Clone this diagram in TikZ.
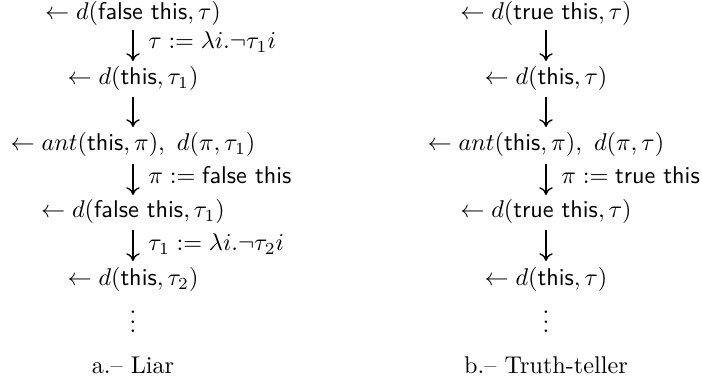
\documentclass[tikz,border=0pt]{standalone}
\usetikzlibrary{arrows.meta}
\begin{document}
\begin{tikzpicture}[x=0.4132pt,y=-0.4132pt,
  row/.style={anchor=base,inner sep=0pt},
  lbl/.style={anchor=base west,inner sep=0pt},
  darr/.style={line width=0.55pt,-{Computer Modern Rightarrow[length=3.2pt,width=5.6pt]}}]
\useasboundingbox (0,0) rectangle (702,385);
% ---- left: Liar
\node[row] (a1) at (133,20) {$\leftarrow d(\textsf{false this},\tau)$};
\node[row] (a2) at (133,85) {$\leftarrow d(\textsf{this},\tau_1)$};
\node[row] (a3) at (133,151) {$\leftarrow ant(\textsf{this},\pi),\ d(\pi,\tau_1)$};
\node[row] (a4) at (133,218) {$\leftarrow d(\textsf{false this},\tau_1)$};
\node[row] (a5) at (133,286) {$\leftarrow d(\textsf{this},\tau_2)$};
\coordinate (a1s) at (133,30); \coordinate (a1e) at (133,61);
\coordinate (a2s) at (133,97); \coordinate (a2e) at (133,127);
\coordinate (a3s) at (133,164); \coordinate (a3e) at (133,195);
\coordinate (a4s) at (133,230); \coordinate (a4e) at (133,261);
\draw[darr] (a1s) -- (a1e);
\draw[darr] (a2s) -- (a2e);
\draw[darr] (a3s) -- (a3e);
\draw[darr] (a4s) -- (a4e);
\node[lbl] (la1) at (148,49) {$\tau := \lambda i.\neg\tau_1 i$};
\node[lbl] (la3) at (148,184) {$\pi := \textsf{false this}$};
\node[lbl] (la4) at (148,251) {$\tau_1 := \lambda i.\neg\tau_2 i$};
\node[row] (adots) at (133,333) {$\vdots$};
\node[row] (acap) at (133,374) {a.-- Liar};
% ---- right: Truth-teller
\node[row] (b1) at (546,20) {$\leftarrow d(\textsf{true this},\tau)$};
\node[row] (b2) at (546,85) {$\leftarrow d(\textsf{this},\tau)$};
\node[row] (b3) at (546,151) {$\leftarrow ant(\textsf{this},\pi),\ d(\pi,\tau)$};
\node[row] (b4) at (546,218) {$\leftarrow d(\textsf{true this},\tau)$};
\node[row] (b5) at (546,286) {$\leftarrow d(\textsf{this},\tau)$};
\coordinate (b1s) at (546,30); \coordinate (b1e) at (546,61);
\coordinate (b2s) at (546,97); \coordinate (b2e) at (546,127);
\coordinate (b3s) at (546,164); \coordinate (b3e) at (546,195);
\coordinate (b4s) at (546,230); \coordinate (b4e) at (546,261);
\draw[darr] (b1s) -- (b1e);
\draw[darr] (b2s) -- (b2e);
\draw[darr] (b3s) -- (b3e);
\draw[darr] (b4s) -- (b4e);
\node[lbl] (lb3) at (561,184) {$\pi := \textsf{true this}$};
\node[row] (bdots) at (546,333) {$\vdots$};
\node[row] (bcap) at (546,374) {b.-- Truth-teller};
\end{tikzpicture}
\end{document}
